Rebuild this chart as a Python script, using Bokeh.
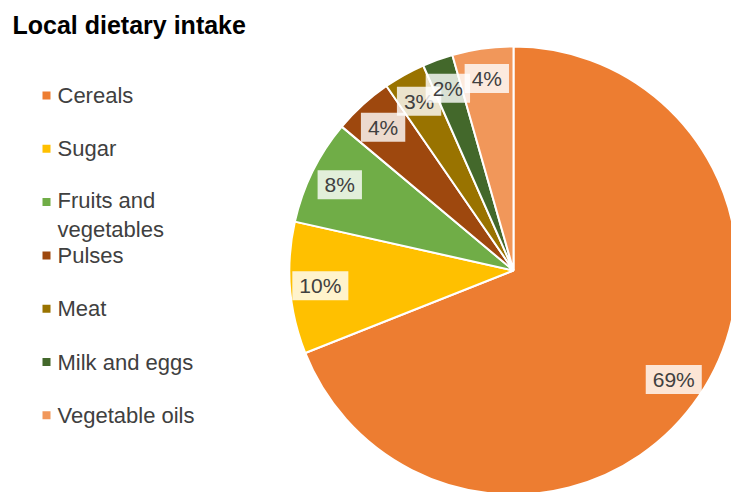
import numpy as np
from bokeh.plotting import figure
from bokeh.models import Range1d, ColumnDataSource
from bokeh.core.properties import value
from bokeh.embed import file_html
from bokeh.resources import INLINE

title = "Local dietary intake"
categories = ["Cereals", "Sugar", "Fruits and\nvegetables", "Pulses", "Meat",
              "Milk and eggs", "Vegetable oils"]
shares = [69.0, 9.5, 7.6, 4.3, 3.0, 2.2, 4.4]
colors = ["#ED7D31", "#FFC000", "#70AD47", "#9E480E", "#997300", "#43682B", "#F1975A"]

W, H = 731, 492
cx, cy, R = 513, H - 270, 224
FONT = value("Liberation Sans")

vals = np.array(shares, dtype=float)
frac = vals / vals.sum()
cum = np.concatenate([[0.0], np.cumsum(frac)])
start = np.pi / 2 - 2 * np.pi * cum[:-1]
end = np.pi / 2 - 2 * np.pi * cum[1:]
mid = (start + end) / 2
lab_r = 0.865 * R

src = ColumnDataSource(dict(
    start=start, end=end, color=colors,
    lx=cx + lab_r * np.cos(mid), ly=cy + lab_r * np.sin(mid),
    lab=[f"{v:.0f}%" for v in vals],
))

p = figure(width=W, height=H, x_range=Range1d(0, W), y_range=Range1d(0, H),
           output_backend="svg", toolbar_location=None, min_border=0,
           background_fill_color="white", border_fill_color="white")
p.axis.visible = False
p.grid.visible = False
p.outline_line_color = None

p.wedge(x=cx, y=cy, radius=R, start_angle="start", end_angle="end",
        direction="clock", fill_color="color", line_color="white",
        line_width=2, source=src)

p.text(x="lx", y="ly", text="lab", text_align="center", text_baseline="middle",
       text_font=FONT, text_font_size="21px", text_color="#404040",
       background_fill_color="white", background_fill_alpha=0.8,
       padding=dict(left=7, right=7, top=3, bottom=3),
       source=src)

# title
p.text(x=[12], y=[H - 24], text=[title], text_font=FONT, text_font_style="bold",
       text_font_size="25px", text_color="#000000", text_baseline="middle")

# legend
line_h = 26
leg_y = [H - (95 + 53.3 * i) for i in range(len(categories))]
txt_y = [y - (c.count("\n")) * line_h / 2 for y, c in zip(leg_y, categories)]
p.scatter(x=[46] * len(categories), y=leg_y, marker="square", size=8,
          fill_color=colors, line_color=None)
p.text(x=[57] * len(categories), y=txt_y, text=categories, text_font=FONT,
       text_font_size="22px", text_color="#404040", text_baseline="middle",
       text_line_height=line_h / 22)

open("out.html", "w").write(file_html(p, INLINE))
